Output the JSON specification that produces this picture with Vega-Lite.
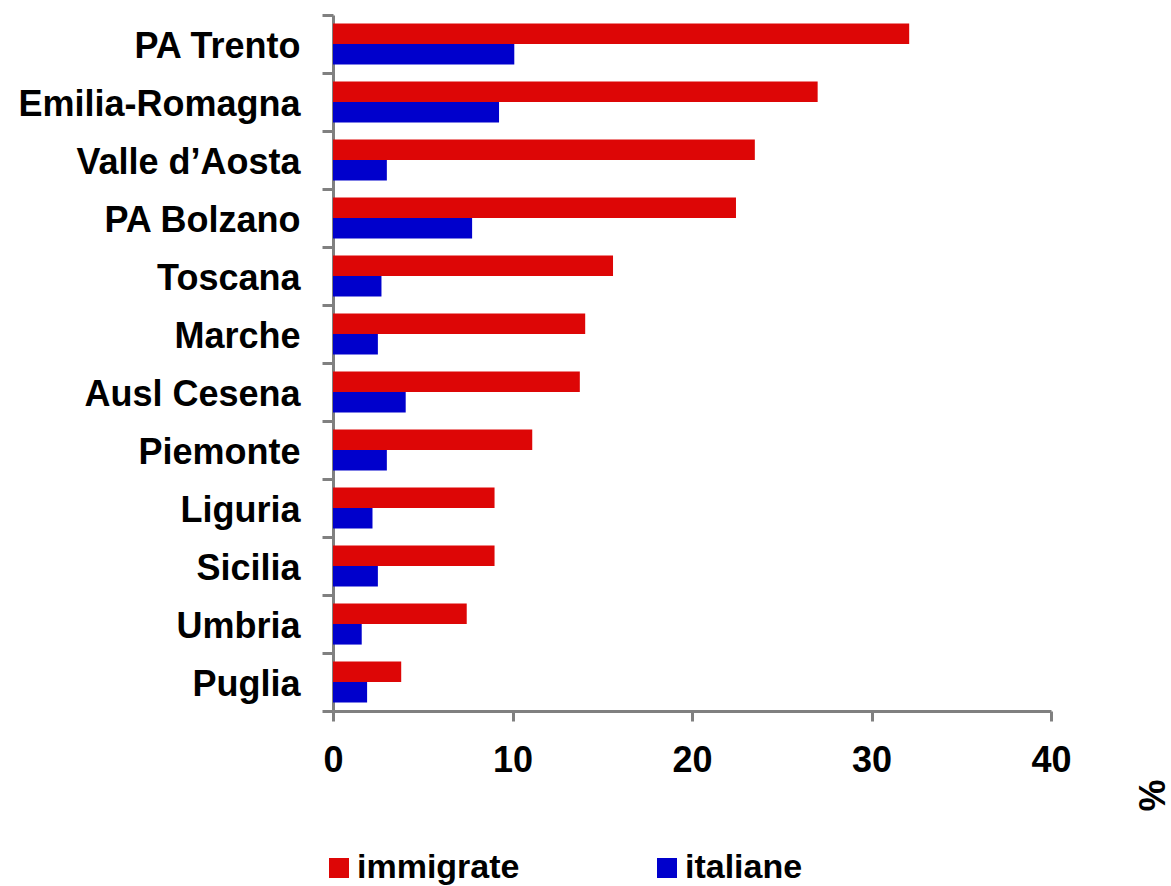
{
  "$schema": "https://vega.github.io/schema/vega-lite/v6.json",
  "width": 718,
  "height": 696,
  "autosize": "none",
  "padding": {"left": 333, "top": 15, "right": 120, "bottom": 175},
  "background": "white",
  "config": {
    "view": {"stroke": null},
    "font": "Liberation Sans"
  },
  "data": {
    "values": [
      {"region": "PA Trento ", "group": "immigrate", "value": 32.1},
      {"region": "PA Trento ", "group": "italiane", "value": 10.1},
      {"region": "Emilia-Romagna", "group": "immigrate", "value": 27.0},
      {"region": "Emilia-Romagna", "group": "italiane", "value": 9.25},
      {"region": "Valle d’Aosta ", "group": "immigrate", "value": 23.5},
      {"region": "Valle d’Aosta ", "group": "italiane", "value": 3.0},
      {"region": "PA Bolzano", "group": "immigrate", "value": 22.45},
      {"region": "PA Bolzano", "group": "italiane", "value": 7.75},
      {"region": "Toscana", "group": "immigrate", "value": 15.6},
      {"region": "Toscana", "group": "italiane", "value": 2.7},
      {"region": "Marche", "group": "immigrate", "value": 14.05},
      {"region": "Marche", "group": "italiane", "value": 2.5},
      {"region": "Ausl Cesena ", "group": "immigrate", "value": 13.75},
      {"region": "Ausl Cesena ", "group": "italiane", "value": 4.05},
      {"region": "Piemonte", "group": "immigrate", "value": 11.1},
      {"region": "Piemonte", "group": "italiane", "value": 3.0},
      {"region": "Liguria", "group": "immigrate", "value": 9.0},
      {"region": "Liguria", "group": "italiane", "value": 2.2},
      {"region": "Sicilia", "group": "immigrate", "value": 9.0},
      {"region": "Sicilia", "group": "italiane", "value": 2.5},
      {"region": "Umbria", "group": "immigrate", "value": 7.45},
      {"region": "Umbria", "group": "italiane", "value": 1.6},
      {"region": "Puglia", "group": "immigrate", "value": 3.8},
      {"region": "Puglia", "group": "italiane", "value": 1.9}
    ]
  },
  "mark": {"type": "bar"},
  "encoding": {
    "y": {
      "field": "region",
      "type": "nominal",
      "sort": null,
      "scale": {"paddingInner": 0, "paddingOuter": 0},
      "axis": {
        "title": null,
        "domainColor": "#808080",
        "domainWidth": 3,
        "tickColor": "#808080",
        "tickWidth": 3,
        "tickSize": 11,
        "tickBand": "extent",
        "labelFontSize": 36,
        "labelFontWeight": "bold",
        "labelColor": "#000000",
        "labelPadding": 22,
        "labelOffset": 2,
        "labelLimit": 400
      }
    },
    "yOffset": {
      "field": "group",
      "type": "nominal",
      "sort": ["immigrate", "italiane"],
      "scale": {"paddingInner": 0, "paddingOuter": 0.41}
    },
    "x": {
      "field": "value",
      "type": "quantitative",
      "scale": {"domain": [0, 40], "nice": false},
      "axis": {
        "values": [0, 10, 20, 30, 40],
        "grid": false,
        "domainColor": "#808080",
        "domainWidth": 3,
        "tickColor": "#808080",
        "tickWidth": 3,
        "tickSize": 10,
        "labelFontSize": 36,
        "labelFontWeight": "bold",
        "labelColor": "#000000",
        "labelPadding": 22,
        "labelFlush": false,
        "labelOverlap": false,
        "title": "%",
        "titleFontSize": 36,
        "titleFontWeight": "bold",
        "titleColor": "#000000",
        "titleAngle": -90,
        "titleX": 820,
        "titleY": 84,
        "titleAlign": "center",
        "titleBaseline": "middle"
      }
    },
    "color": {
      "field": "group",
      "type": "nominal",
      "scale": {"domain": ["immigrate", "italiane"], "range": ["#dd0606", "#0000cc"]},
      "legend": {
        "title": null,
        "orient": "none",
        "direction": "horizontal",
        "legendX": -11,
        "legendY": 836,
        "symbolType": "square",
        "symbolSize": 400,
        "symbolStrokeWidth": 0,
        "symbolOpacity": 1,
        "labelFontSize": 34,
        "labelFontWeight": "bold",
        "labelColor": "#000000",
        "labelOffset": 1,
        "columnPadding": 130,
        "labelLimit": 400
      }
    }
  }
}
